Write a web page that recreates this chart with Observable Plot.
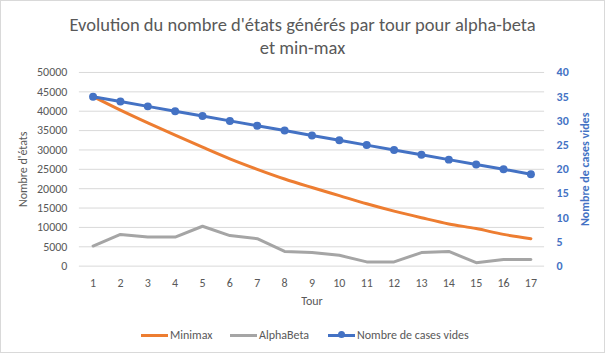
<!DOCTYPE html>
<html>
<head>
<meta charset="utf-8">
<script src="https://cdn.jsdelivr.net/npm/d3@7"></script>
<script src="https://cdn.jsdelivr.net/npm/@observablehq/plot@0.6"></script>
<style>
  html, body { margin: 0; padding: 0; background: #fff; }
  #chart { position: relative; width: 603px; height: 351px; border: 1px solid #d9d9d9; overflow: hidden;
           font-family: Calibri, Carlito, Lato, sans-serif; }
  #title { position: absolute; left: 0; top: 12px; width: 603px; text-align: center; color: #595959;
           font-size: 18.5px; line-height: 23px; }
  #plot { position: absolute; left: -1px; top: 59px; }
  #legend { position: absolute; top: 327px; left: 0; width: 603px; font-size: 12px; color: #595959; }
  .li { position: absolute; top: 0; display: flex; align-items: center; }
  .sw { display: inline-block; width: 27px; height: 3px; margin-right: 2px; position: relative; }
  .dot { position: absolute; left: 10px; top: -2.5px; width: 7px; height: 7px; border-radius: 50%; background: #4472c4; }
</style>
</head>
<body>
<div id="chart">
  <div id="title">Evolution du nombre d'états générés par tour pour alpha-beta<br>et min-max</div>
  <div id="plot"></div>
  <div id="legend"></div>
</div>
<script>
const tours = [1,2,3,4,5,6,7,8,9,10,11,12,13,14,15,16,17];
const minimax = [43800,40300,37000,33800,30700,27700,25000,22500,20300,18200,16100,14200,12500,10900,9700,8200,7100];
const alphaBeta = [5200,8200,7500,7500,10300,7900,7100,3800,3500,2800,1100,1100,3500,3800,900,1700,1700];
const casesVides = [35,34,33,32,31,30,29,28,27,26,25,24,23,22,21,20,19];
const leftTicks = [0,5000,10000,15000,20000,25000,30000,35000,40000,45000,50000];
const rightTicks = [0,5,10,15,20,25,30,35,40];
const seriesNames = ["Minimax", "AlphaBeta", "Nombre de cases vides"];
const colors = ["#ed7d31", "#a5a5a5", "#4472c4"];

const ratio = 50000 / 40;
const dMin = tours.map((t, i) => ({t, v: minimax[i]}));
const dAB = tours.map((t, i) => ({t, v: alphaBeta[i]}));
const dCV = tours.map((t, i) => ({t, v: casesVides[i] * ratio}));

const plot = Plot.plot({
  width: 605,
  height: 250,
  marginTop: 12,
  marginBottom: 44,
  marginLeft: 79,
  marginRight: 60,
  style: {fontFamily: 'Calibri, Carlito, Lato, sans-serif', fontSize: "12px", color: "#595959"},
  x: {domain: [0.5, 17.5]},
  y: {domain: [0, 50000]},
  marks: [
    Plot.gridY(leftTicks, {stroke: "#d9d9d9", strokeOpacity: 1}),
    Plot.axisY({ticks: leftTicks, tickFormat: d => String(d), tickSize: 0, tickPadding: 12, fill: "#595959", fontSize: 12,
      label: "Nombre d'états", labelAnchor: "center", labelArrow: "none", labelOffset: 61}),
    Plot.axisY({anchor: "right", ticks: rightTicks.map(v => v * ratio), tickFormat: d => String(d / ratio),
      tickSize: 0, tickPadding: 12, fill: "#4472c4", fontSize: 12, fontWeight: "bold",
      label: "Nombre de cases vides", labelAnchor: "center", labelArrow: "none", labelOffset: 44}),
    Plot.axisX({ticks: tours, tickSize: 0, tickPadding: 12, fill: "#595959", fontSize: 12,
      label: "Tour", labelAnchor: "center", labelArrow: "none", labelOffset: 39}),
    Plot.lineY(dAB, {x: "t", y: "v", stroke: colors[1], strokeWidth: 3}),
    Plot.lineY(dMin, {x: "t", y: "v", stroke: colors[0], strokeWidth: 3, curve: "monotone-x"}),
    Plot.lineY(dCV, {x: "t", y: "v", stroke: colors[2], strokeWidth: 3}),
    Plot.dot(dCV, {x: "t", y: "v", fill: colors[2], r: 4})
  ]
});
document.getElementById("plot").appendChild(plot);

const legend = document.getElementById("legend");
const lefts = [140, 229, 327];
seriesNames.forEach((name, i) => {
  const el = document.createElement("div");
  el.className = "li";
  el.style.left = lefts[i] + "px";
  el.innerHTML = `<span class="sw" style="background:${colors[i]}">${i === 2 ? '<span class="dot"></span>' : ''}</span><span>${name}</span>`;
  legend.appendChild(el);
});
</script>
</body>
</html>
